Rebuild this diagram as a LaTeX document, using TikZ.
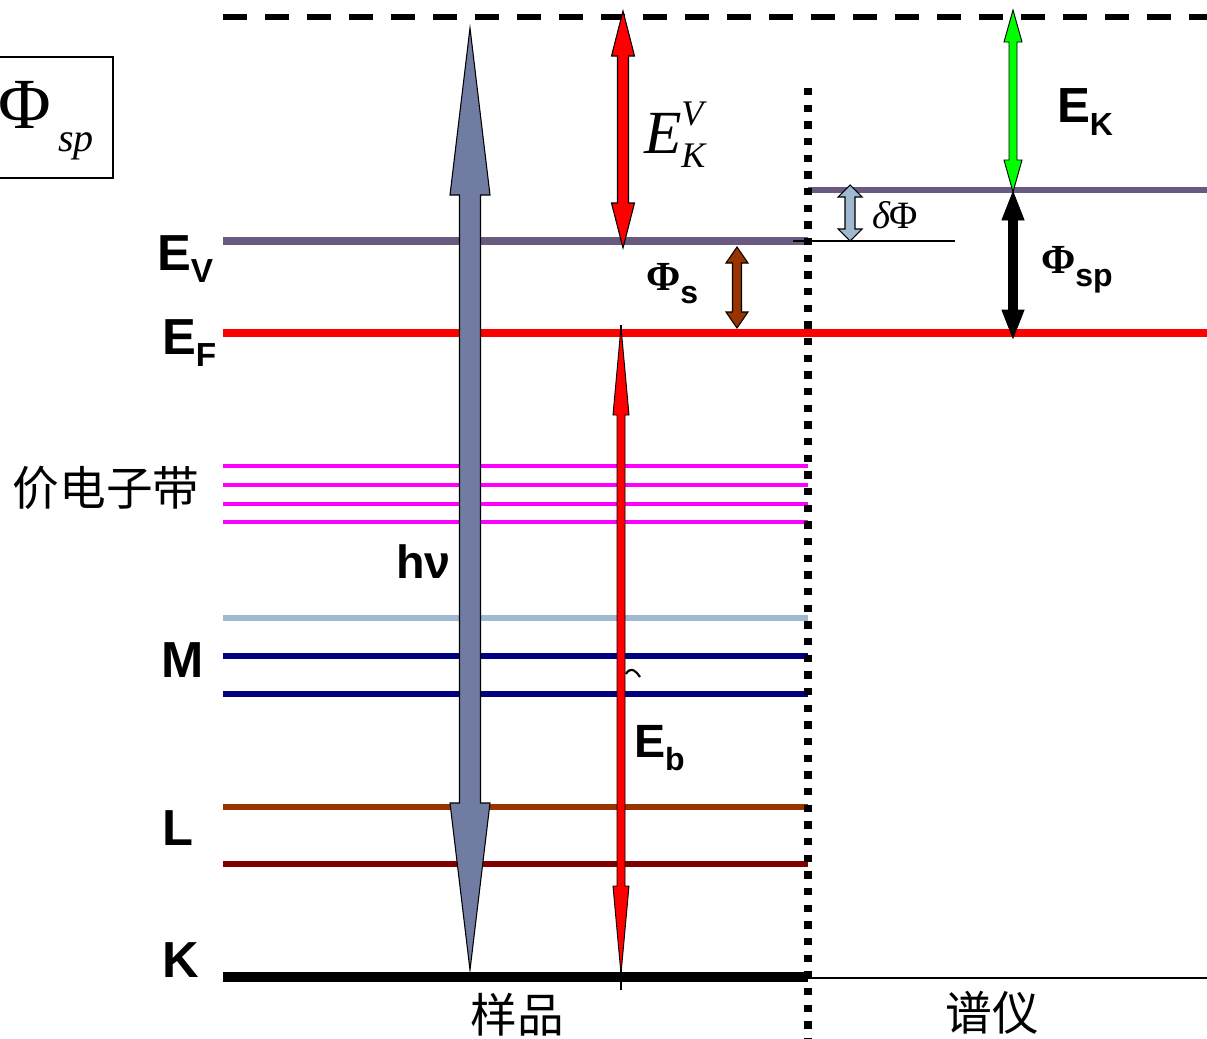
\documentclass[tikz,border=0pt]{standalone}
\usepackage{fontspec}
\setmainfont{Liberation Serif}
\setsansfont{Liberation Sans}
\newfontfamily\cjk{Noto Sans CJK SC}
\newcommand{\fs}[1]{\fontsize{#1}{#1}\selectfont}
\newcommand{\fatdarrow}[8]{%
  \draw[line width=#8, draw=black, fill=#7, line join=miter]
    (#1,#2) -- ({#1+#5},{#2+#6}) -- ({#1+#4},{#2+#6}) -- ({#1+#4},{#3-#6})
    -- ({#1+#5},{#3-#6}) -- (#1,#3) -- ({#1-#5},{#3-#6}) -- ({#1-#4},{#3-#6})
    -- ({#1-#4},{#2+#6}) -- ({#1-#5},{#2+#6}) -- cycle;}
\definecolor{evpurple}{RGB}{107,90,128}
\definecolor{hvgray}{RGB}{113,124,163}
\definecolor{magline}{RGB}{255,0,255}
\definecolor{ltblue}{RGB}{160,184,208}
\definecolor{navyline}{RGB}{0,0,128}
\definecolor{brownline}{RGB}{153,51,0}
\definecolor{darkredline}{RGB}{128,0,0}
\definecolor{phisbrown}{RGB}{153,51,0}
\definecolor{dphiblue}{RGB}{160,184,208}
\definecolor{ekgreen}{RGB}{0,255,0}
\tikzset{
  lab/.style={inner sep=0pt, outer sep=0pt, anchor=base west},
}
\begin{document}
\begin{tikzpicture}[x=0.75pt,y=-0.75pt]
\useasboundingbox (0,0) rectangle (1207,1039);
\fill[white] (0,0) rectangle (1207,1039);

% top vacuum level (dashed)
\coordinate (vac0) at (223,17);
\coordinate (vac1) at (1207,17);
\draw[line width=4.2pt, dash pattern=on 18pt off 13.5pt] (vac0) -- (vac1);

% box with Phi_sp
\draw[line width=1.1pt] (-5,57) rectangle (113,178);
\node[lab] (boxphi) at (-2,128) {\fs{54}Φ};
\node[lab] (boxsp) at (58,151) {\fs{30}\itshape sp};

% sample energy levels
\coordinate (ev0) at (223,241); \coordinate (ev1) at (808,241);
\draw[evpurple, line width=5.5pt] (ev0) -- (ev1);
\coordinate (ef0) at (223,333); \coordinate (ef1) at (1207,333);
\draw[red, line width=6pt] (ef0) -- (ef1);
\foreach \yy in {466,485,504,522}{\draw[magline, line width=3.6pt] (223,\yy) -- (808,\yy);}
\draw[ltblue, line width=3.8pt] (223,618) -- (808,618);
\draw[navyline, line width=3.8pt] (223,656) -- (808,656);
\draw[navyline, line width=3.8pt] (223,694) -- (808,694);
\draw[brownline, line width=3.8pt] (223,807) -- (808,807);
\draw[darkredline, line width=3.8pt] (223,864) -- (808,864);
\coordinate (k0) at (223,977); \coordinate (k1) at (808,977);
\draw[black, line width=8pt] (k0) -- (k1);

% spectrometer levels
\coordinate (sv0) at (808,190); \coordinate (sv1) at (1207,190);
\draw[evpurple, line width=4.5pt] (sv0) -- (sv1);
\draw[line width=1pt] (793,241) -- (955,241);
\draw[line width=1.3pt] (808,978) -- (1207,978);

% dotted separator
\coordinate (sep0) at (808,88); \coordinate (sep1) at (808,1045);
\draw[line width=5.6pt, dash pattern=on 5.6pt off 6.9pt] (sep0) -- (sep1);

% arrows
\fatdarrow{470}{28}{970}{10.5}{20}{167}{hvgray}{0.8pt}
\fatdarrow{623}{11}{248}{5.5}{11.5}{45}{red}{0.8pt}
\draw[line width=1pt] (621,325) -- (621,990);
\fatdarrow{621}{327}{974}{4}{8}{88}{red}{0.7pt}
\fatdarrow{737}{247}{328}{4.5}{11}{16}{phisbrown}{0.8pt}
\fatdarrow{850}{185}{241}{5}{12}{12}{dphiblue}{0.8pt}
\fatdarrow{1013}{10}{192}{4}{9}{32}{ekgreen}{0.7pt}
\fatdarrow{1013}{192}{338}{4.5}{11}{28}{black}{0.7pt}

% small mark
\draw[line width=1.6pt] (626,674) .. controls (629,668) and (634,668) .. (640,677);

% labels (left)
\node[lab] (lev) at (157,270) {\fs{38}\sffamily\bfseries E\raisebox{-9pt}{\fs{25}V}};
\node[lab] (lef) at (162,354) {\fs{38}\sffamily\bfseries E\raisebox{-9pt}{\fs{25}F}};
\node (lval) at (106,488) {\cjk\fs{35}价电子带};
\node[lab] (lm) at (161,677) {\fs{38}\sffamily\bfseries M};
\node[lab] (ll) at (162,845) {\fs{38}\sffamily\bfseries L};
\node[lab] (lk) at (162,977) {\fs{38}\sffamily\bfseries K};
\node[lab] (lhv) at (396,578) {\fs{35}\sffamily\bfseries hν};
\node (lsample) at (517,1015) {\cjk\fs{35}样品};
\node (lspec) at (992,1013) {\cjk\fs{35}谱仪};

% labels (arrows)
\node[lab] (lekv) at (644,153) {\fs{46}\itshape E\makebox[0pt][l]{\raisebox{21pt}{\fs{27}\itshape V}}\raisebox{-10.5pt}{\fs{27}\itshape K}};
\node[lab] (lphis) at (646,290) {\fs{31}\bfseries Φ\raisebox{-10pt}{\fs{24}\sffamily\bfseries s}};
\node[lab] (ldphi) at (872,228) {\fs{29}\itshape δ\upshape Φ};
\node[lab] (lek) at (1057,122) {\fs{37}\sffamily\bfseries E\raisebox{-10pt}{\fs{24}K}};
\node[lab] (lphisp) at (1041,273) {\fs{31}\bfseries Φ\raisebox{-10pt}{\fs{24}\sffamily\bfseries sp}};
\node[lab] (leb) at (634,757) {\fs{35}\sffamily\bfseries E\raisebox{-10pt}{\fs{24}b}};
\end{tikzpicture}
\end{document}
